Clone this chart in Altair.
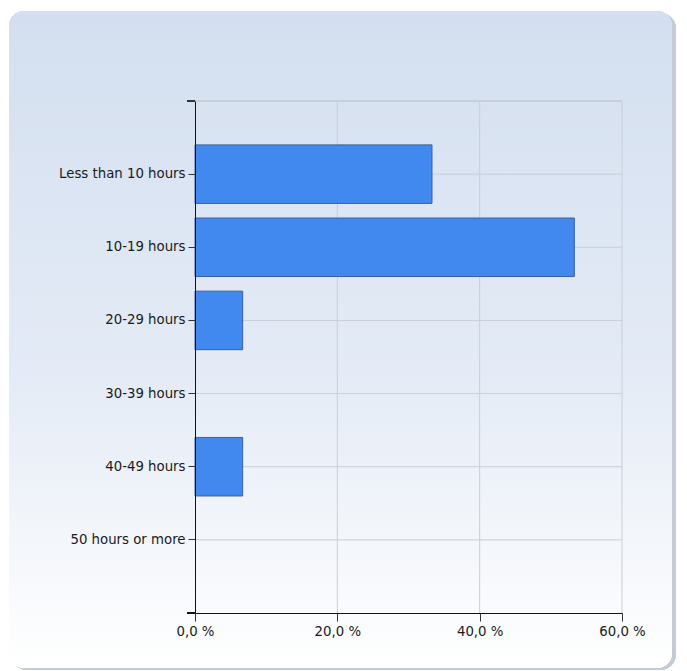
import altair as alt
import pandas as pd

categories = ["Less than 10 hours", "10-19 hours", "20-29 hours",
              "30-39 hours", "40-49 hours", "50 hours or more"]
percent = [33.3, 53.3, 6.7, 0.0, 6.7, 0.0]
x_ticks = [0, 20, 40, 60]

df = pd.DataFrame({"category": categories, "percent": percent})
grid_x = pd.DataFrame({"v": x_ticks[1:]})

W, H = 427, 512
FONT = "DejaVu Sans"

y_enc = alt.Y("category:N", sort=categories,
              scale=alt.Scale(paddingInner=0.2, paddingOuter=0.6),
              axis=alt.Axis(title=None, labelFont=FONT, labelFontSize=13.3,
                            labelColor="#1a1a1a", tickSize=7, tickColor="#333333",
                            labelPadding=3, domainColor="#111111", grid=False,
                            zindex=1))
x_scale = alt.Scale(domain=[0, 60], nice=False)
x_axis = alt.Axis(title=None, values=x_ticks, labelFont=FONT, labelFontSize=13.3,
                  labelColor="#1a1a1a", tickSize=8, tickColor="#333333",
                  labelPadding=3, labelFlush=False, domainColor="#111111",
                  grid=False, zindex=1,
                  labelExpr="replace(format(datum.value, '.1f'), '.', ',') + ' %'")

base = alt.Chart(df)

shadow = base.mark_rect(cornerRadius=16, color="#c3cad5", opacity=0.8).encode(
    x=alt.value(-184), x2=alt.value(481), y=alt.value(-88), y2=alt.value(569))
panel = base.mark_rect(
    cornerRadius=15,
    color=alt.Gradient(gradient="linear",
                       stops=[alt.GradientStop(color="#d3dff0", offset=0),
                              alt.GradientStop(color="#e4ebf6", offset=0.55),
                              alt.GradientStop(color="#ffffff", offset=1)],
                       x1=0, x2=0, y1=0, y2=1)
).encode(x=alt.value(-186), x2=alt.value(477), y=alt.value(-90), y2=alt.value(567))

hgrid = base.mark_rule(color="#c9ced6", strokeWidth=1).encode(y=y_enc)
vgrid = alt.Chart(grid_x).mark_rule(color="#c9ced6", strokeWidth=1).encode(
    x=alt.X("v:Q", scale=x_scale, axis=x_axis))
top_border = base.mark_rule(color="#c9ced6").encode(
    x=alt.value(0), x2=alt.value(W), y=alt.value(0))

bars = base.mark_bar(color="#4189ee", stroke="#3a5f9c", strokeWidth=1).encode(
    x=alt.X("percent:Q", scale=x_scale, axis=x_axis),
    y=y_enc,
    opacity=alt.condition("datum.percent > 0", alt.value(1), alt.value(0)))

end_ticks_top = base.mark_rule(color="#333333").encode(
    x=alt.value(-8), x2=alt.value(0), y=alt.value(0))
end_ticks_bot = base.mark_rule(color="#111111").encode(
    x=alt.value(-8), x2=alt.value(0), y=alt.value(H))

chart = alt.layer(shadow, panel, hgrid, vgrid, top_border, bars,
                  end_ticks_top, end_ticks_bot).properties(
    width=W, height=H,
    padding={"left": 195, "top": 101, "right": 65, "bottom": 58},
    autosize="none",
    background="white",
).configure_view(stroke=None)

chart.save("out.html", embed_options={"renderer": "svg", "actions": False})
